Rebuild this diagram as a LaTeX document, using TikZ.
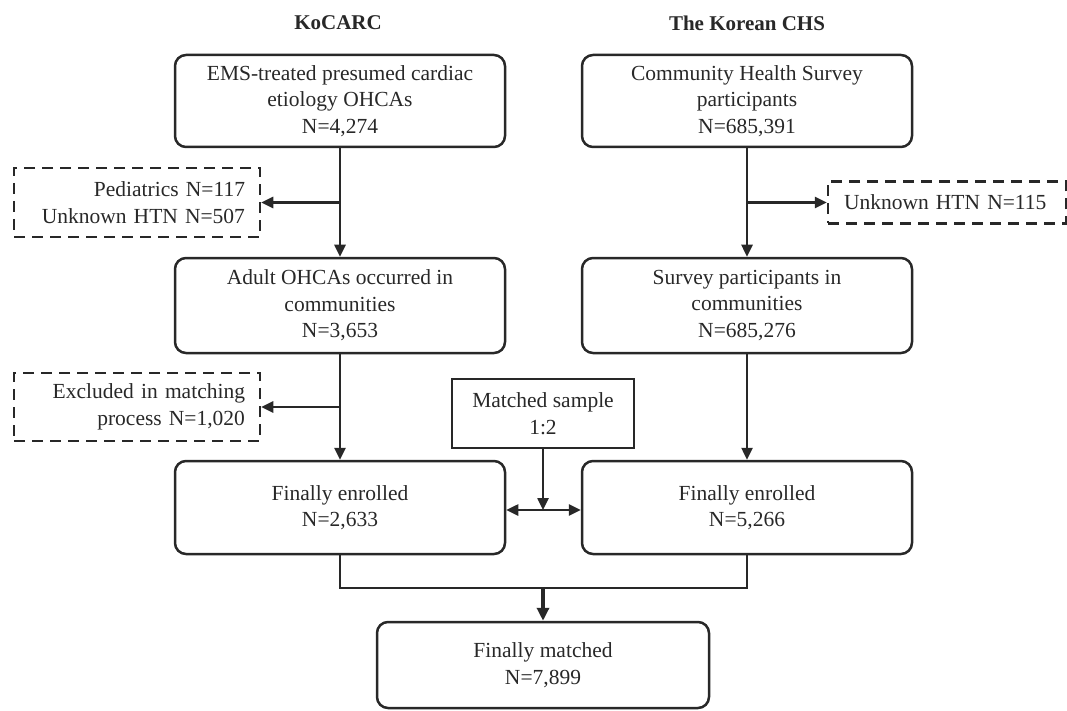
\documentclass[tikz,border=0pt]{standalone}
\usepackage{fontspec}
\setmainfont{Liberation Serif}
\usetikzlibrary{arrows.meta}
\definecolor{lc}{RGB}{40,40,40}
\begin{document}
\begin{tikzpicture}[x=1pt,y=-1pt,
  every node/.style={font=\fontsize{21.5}{26.5}\selectfont, text=lc, align=center, inner sep=0pt},
  rbox/.style={draw=lc, line width=2.5pt, rounded corners=11pt, minimum width=330pt},
  sbox/.style={draw=lc, line width=2.5pt},
  dbox/.style={draw=lc, line width=2.5pt, dash pattern=on 11pt off 7pt},
  hdr/.style={font=\bfseries\fontsize{21}{24}\selectfont},
  conn/.style={draw=lc, line width=2.5pt},
  arr/.style={conn, -{Triangle[length=12pt,width=11pt]}},
  darr/.style={conn, {Triangle[length=12pt,width=11pt]}-{Triangle[length=12pt,width=11pt]}},
  tarr/.style={draw=lc, line width=4pt, -{Triangle[length=13pt,width=12pt]}}
]
\useasboundingbox (0,0) rectangle (1067,711);

% headers
\node[hdr] (h1) at (338,23) {KoCARC};
\node[hdr] (h2) at (747,23) {The Korean CHS};

% left column
\node[rbox, minimum height=92pt] (L1) at (340,101) {EMS-treated presumed cardiac\\etiology OHCAs\\N=4,274};
\node[rbox, minimum height=95pt] (L2) at (340,305.5) {Adult OHCAs occurred in\\communities\\N=3,653};
\node[rbox, minimum height=93pt] (L3) at (340,507.5) {Finally enrolled\\N=2,633};

% right column
\node[rbox, minimum height=92pt] (R1) at (747,101) {Community Health Survey\\participants\\N=685,391};
\node[rbox, minimum height=95pt] (R2) at (747,305.5) {Survey participants in\\communities\\N=685,276};
\node[rbox, minimum height=93pt] (R3) at (747,507.5) {Finally enrolled\\N=5,266};

% exclusion boxes
\node[dbox, minimum width=246pt, minimum height=69pt, text width=216pt, align=right] (D1) at (137,202.5) {Pediatrics N=117\\Unknown HTN N=507};
\node[dbox, minimum width=246pt, minimum height=68pt, text width=216pt, align=right] (D2) at (137,407) {Excluded in matching\\process N=1,020};
\node[dbox, minimum width=238pt, minimum height=42pt, text width=206pt, align=left] (D3) at (947,202.5) {Unknown HTN N=115};

% matched sample
\node[sbox, minimum width=182pt, minimum height=69pt] (M) at (543,413.5) {Matched sample\\1:2};

% final
\node[rbox, minimum width=332pt, minimum height=86pt] (B) at (543,665) {Finally matched\\N=7,899};

% connectors left
\draw[arr] (L1.south) -- (L2.north);
\draw[arr] (L1.south |- D1.east) -- (D1.east);
\draw[arr] (L2.south) -- (L3.north);
\draw[arr] (L2.south |- D2.east) -- (D2.east);

% connectors right
\draw[arr] (R1.south) -- (R2.north);
\draw[arr] (R1.south |- D3.west) -- (D3.west);
\draw[arr] (R2.south) -- (R3.north);

% matching
\coordinate (mm) at (543,510);
\draw[darr] (L3.east |- mm) -- (R3.west |- mm);
\draw[arr] (M.south) -- (mm);

% merge
\coordinate (mg) at (543,588);
\draw[conn] (L3.south) -- (L3.south |- mg) -- (R3.south |- mg) -- (R3.south);
\draw[tarr] (mg) -- (B.north);
\end{tikzpicture}
\end{document}
